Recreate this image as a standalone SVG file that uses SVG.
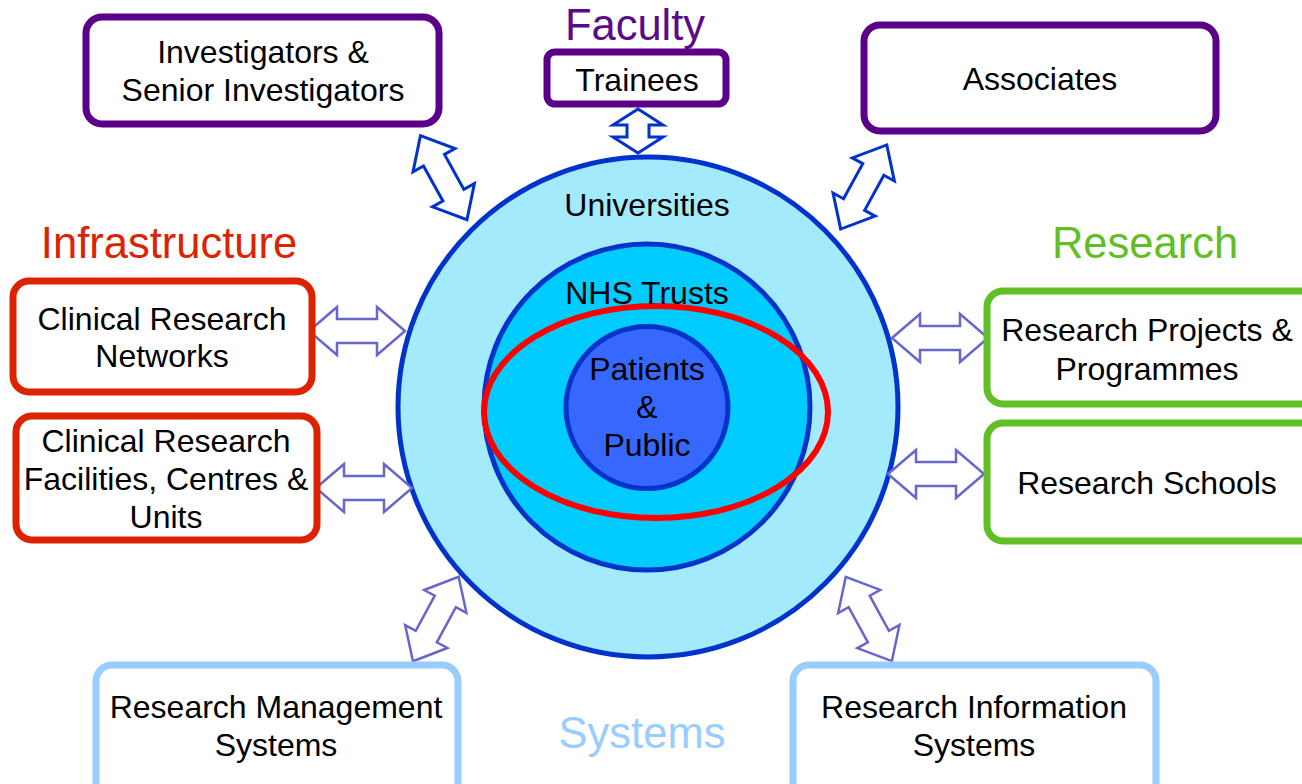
<svg xmlns="http://www.w3.org/2000/svg" width="1302" height="784" viewBox="0 0 1302 784">
<style>
text{font-family:"Liberation Sans",Arial,sans-serif;text-anchor:middle}
.t{font-size:32px;fill:#000}
.h{font-size:43.5px}
.box{fill:#fff;stroke-width:7}
.fac{stroke:#5b0088}
.inf{stroke:#dd2200}
.res{stroke:#5fbf25}
.sys{stroke:#99ccff}
.arD{fill:#fff;stroke:#0033cc;stroke-width:3;stroke-linejoin:miter}
.arL{fill:#fff;stroke:#6666cc;stroke-width:2.5;stroke-linejoin:miter}
</style>
<defs>
<path id="dbl" d="M-48,0 L-20,-24 L-20,-12 L20,-12 L20,-24 L48,0 L20,24 L20,12 L-20,12 L-20,24 Z"/>
<path id="dblS" d="M-22,0 L-6,-25 L-6,-11 L6,-11 L6,-25 L22,0 L6,25 L6,11 L-6,11 L-6,25 Z"/>
</defs>
<rect width="1302" height="784" fill="#fff"/>

<g id="circles">
<circle cx="648" cy="407" r="250" fill="#a3eafd" stroke="#0033cc" stroke-width="5"/>
<circle cx="647" cy="407" r="163" fill="#00ccff" stroke="#0033cc" stroke-width="5"/>
<circle cx="647" cy="407.5" r="81" fill="#3668ff" stroke="#0033cc" stroke-width="5"/>
<ellipse cx="656" cy="412" rx="172" ry="106" fill="none" stroke="#ff0000" stroke-width="6"/>
<text class="t" x="647" y="216">Universities</text>
<text class="t" x="647" y="304">NHS Trusts</text>
<text class="t" x="647" y="380">Patients</text>
<text class="t" x="647" y="418">&amp;</text>
<text class="t" x="647" y="456">Public</text>
</g>

<g id="connectors">
<use href="#dblS" class="arD" transform="translate(638,131) rotate(90)"/>
<use href="#dbl" class="arD" transform="translate(443.7,177.7) rotate(61)"/>
<use href="#dbl" class="arD" transform="translate(863.7,187) rotate(118.7)"/>
<use href="#dbl" class="arL" transform="translate(357,331)"/>
<use href="#dbl" class="arL" transform="translate(364,488)"/>
<use href="#dbl" class="arL" transform="translate(940,338)"/>
<use href="#dbl" class="arL" transform="translate(936,474)"/>
<use href="#dbl" class="arL" transform="translate(435.8,619) rotate(118.4)"/>
<use href="#dbl" class="arL" transform="translate(868.8,619) rotate(61.3)"/>
</g>

<g id="titles">
<text class="h" x="635" y="40" fill="#5b0a8a">Faculty</text>
<text class="h" x="169" y="258" fill="#dd2200">Infrastructure</text>
<text class="h" x="1145" y="258" fill="#5fbf25">Research</text>
<text class="h" x="642" y="748" fill="#99ccff">Systems</text>
</g>

<g id="investigators">
<rect class="box fac" x="86" y="17" width="353" height="107" rx="16"/>
<text class="t" x="263" y="63">Investigators &amp;</text>
<text class="t" x="263" y="101">Senior Investigators</text>
</g>
<g id="trainees">
<rect class="box fac" x="547" y="52" width="179" height="52" rx="8"/>
<text class="t" x="637" y="91">Trainees</text>
</g>
<g id="associates">
<rect class="box fac" x="864" y="25" width="352" height="106" rx="16"/>
<text class="t" x="1040" y="90">Associates</text>
</g>
<g id="crn">
<rect class="box inf" x="13" y="281" width="299" height="111" rx="16"/>
<text class="t" x="162" y="330">Clinical Research</text>
<text class="t" x="162" y="367">Networks</text>
</g>
<g id="crf">
<rect class="box inf" x="16" y="416" width="301" height="124" rx="16"/>
<text class="t" x="166" y="452">Clinical Research</text>
<text class="t" x="166" y="490">Facilities, Centres &amp;</text>
<text class="t" x="166" y="528">Units</text>
</g>
<g id="projects">
<rect class="box res" x="987" y="291" width="330" height="113" rx="16"/>
<text class="t" x="1147" y="341">Research Projects &amp;</text>
<text class="t" x="1147" y="380">Programmes</text>
</g>
<g id="schools">
<rect class="box res" x="987" y="423" width="330" height="118" rx="16"/>
<text class="t" x="1147" y="494">Research Schools</text>
</g>
<g id="rms">
<rect class="box sys" x="96" y="665" width="362" height="140" rx="16"/>
<text class="t" x="276" y="718">Research Management</text>
<text class="t" x="276" y="756">Systems</text>
</g>
<g id="ris">
<rect class="box sys" x="793" y="665" width="363" height="140" rx="16"/>
<text class="t" x="974" y="718">Research Information</text>
<text class="t" x="974" y="756">Systems</text>
</g>
</svg>
